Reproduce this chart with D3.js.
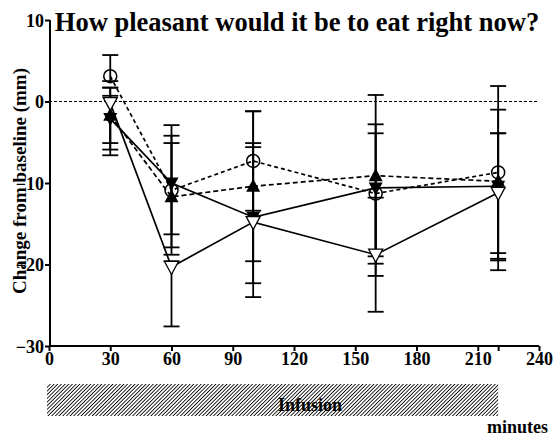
<!DOCTYPE html>
<html><head><meta charset="utf-8">
<script src="https://cdn.jsdelivr.net/npm/d3@7"></script>
<style>body{margin:0;background:#fff}svg{display:block}text{font-family:"Liberation Serif","Times New Roman",serif;font-weight:bold;fill:#000}</style>
</head><body><svg id="c" width="556" height="438"></svg>
<script>
const times = [30, 60, 100, 160, 220];
const xTicks = [0, 30, 60, 90, 120, 150, 180, 210, 240];
const yTicks = [10, 0, -10, -20, -30];
// series: open circle (dashed)
const circleVals = [3.1, -10.9, -7.3, -11.3, -8.7];
const circleHi   = [2.6, 8.0, 6.1, 8.5, 10.6];
const circleLo   = [0.6, 7.9, 6.1, 8.6, 10.6];
// filled triangle up (dashed)
const triUpVals = [-1.7, -11.7, -10.4, -9.1, -9.8];
const triUpHi   = [3.4, 6.6, 9.2, 9.9, 8.8];
const triUpLo   = [3.4, 6.2, 9.2, 9.9, 8.8];
// filled triangle down (solid)
const triDownVals = [-2.1, -10.0, -14.2, -10.6, -10.4];
const triDownHi   = [3.8, 5.8, 9.1, 6.7, 6.5];
const triDownLo   = [3.8, 6.3, 8.1, 10.8, 9.1];
// open triangle down (solid)
const openDownVals = [-0.2, -20.3, -14.8, -18.8, -11.2];
const openDownHi   = [0.9, 0.7, 9.2, 7.0, 7.3];
const openDownLo   = [6.4, 7.3, 9.2, 7.0, 9.5];
const infusion = [0, 220];

const svg = d3.select("#c");
const x = d3.scaleLinear().domain([0, 240]).range([49, 539]);
const y = d3.scaleLinear().domain([-30, 10]).range([346, 20]);

// hatch pattern
const defs = svg.append("defs");
const pat = defs.append("pattern").attr("id","hatch").attr("patternUnits","userSpaceOnUse")
  .attr("width",2.6).attr("height",2.6).attr("patternTransform","rotate(45)");
pat.append("rect").attr("width",2.6).attr("height",2.6).attr("fill","#fff");
pat.append("line").attr("x1",0).attr("y1",0).attr("x2",0).attr("y2",2.6).attr("stroke","#000").attr("stroke-width",1.7);

// title
svg.append("text").attr("x", 297).attr("y", 31).attr("text-anchor","middle")
  .style("font-size","26.5px").text("How pleasant would it be to eat right now?");

// zero line
svg.append("line").attr("x1", x(0)).attr("x2", x(240)).attr("y1", y(0)).attr("y2", y(0))
  .attr("stroke","#000").attr("stroke-width",1).attr("stroke-dasharray","3,2");

// axes
const yAxis = d3.axisLeft(y).tickValues(yTicks).tickSize(5).tickFormat(d3.format("d"));
const gy = svg.append("g").attr("transform",`translate(${x(0)+1},0)`).call(yAxis);
const xAxis = d3.axisBottom(x).tickValues(xTicks.concat([220])).tickSize(5)
  .tickFormat(d => xTicks.includes(d) ? d : "");
const gx = svg.append("g").attr("transform",`translate(0,${y(-30)})`).call(xAxis);
[gx, gy].forEach(g => {
  g.select(".domain").attr("stroke","#000").attr("stroke-width",2);
  g.selectAll(".tick line").attr("stroke","#000").attr("stroke-width",2);
  g.selectAll(".tick text").style("font-size","18px").style("font-family","'Liberation Serif',serif").style("font-weight","bold").attr("fill","#000");
});
gx.select(".domain").attr("d", `M${x(0)},0H${x(240)}`);
gy.select(".domain").attr("d", `M0,${y(10)}V${y(-30)}`);
gx.selectAll(".tick text").attr("dy","0.6em");
gy.selectAll(".tick text").attr("x",-6).attr("dy","0.35em");

// y title
svg.append("text").attr("transform","translate(26,181) rotate(-90)").attr("text-anchor","middle")
  .style("font-size","19px").text("Change from baseline (mm)");

const series = [
  {vals: circleVals, hi: circleHi, lo: circleLo, dash: "4,3", sym: "circle"},
  {vals: triUpVals, hi: triUpHi, lo: triUpLo, dash: "5,3", sym: "triUp"},
  {vals: triDownVals, hi: triDownHi, lo: triDownLo, dash: null, sym: "triDown"},
  {vals: openDownVals, hi: openDownHi, lo: openDownLo, dash: null, sym: "openDown"}
];
const line = d3.line().x((d,i) => x(times[i])).y(d => y(d));
series.forEach(s => {
  svg.append("path").attr("d", line(s.vals)).attr("fill","none").attr("stroke","#000")
    .attr("stroke-width",1.7).attr("stroke-dasharray", s.dash);
});
// error bars
series.forEach(s => {
  s.vals.forEach((v,i) => {
    const cx = x(times[i]);
    const g = svg.append("g").attr("stroke","#000").attr("stroke-width",1.8);
    g.append("line").attr("x1",cx).attr("x2",cx).attr("y1",y(v + s.hi[i])).attr("y2",y(v - s.lo[i]));
    g.append("line").attr("x1",cx-8).attr("x2",cx+8).attr("y1",y(v + s.hi[i])).attr("y2",y(v + s.hi[i]));
    g.append("line").attr("x1",cx-8).attr("x2",cx+8).attr("y1",y(v - s.lo[i])).attr("y2",y(v - s.lo[i]));
  });
});
// markers
series.forEach(s => {
  s.vals.forEach((v,i) => {
    const cx = x(times[i]), cy = y(v);
    if (s.sym === "circle") {
      svg.append("circle").attr("cx",cx).attr("cy",cy).attr("r",6.5).attr("fill","none").attr("stroke","#000").attr("stroke-width",1.5);
    } else if (s.sym === "triUp") {
      svg.append("path").attr("d",`M${cx},${cy-7.5}L${cx+7},${cy+5.5}L${cx-7},${cy+5.5}Z`).attr("fill","#000");
    } else if (s.sym === "triDown") {
      svg.append("path").attr("d",`M${cx},${cy+7.5}L${cx+7},${cy-5.5}L${cx-7},${cy-5.5}Z`).attr("fill","#000");
    } else {
      svg.append("path").attr("d",`M${cx},${cy+7.5}L${cx+7},${cy-5.5}L${cx-7},${cy-5.5}Z`).attr("fill","#fff").attr("stroke","#000").attr("stroke-width",1.3);
    }
  });
});

// infusion bar
svg.append("rect").attr("x", x(infusion[0])-2).attr("y",384).attr("width", x(infusion[1]) - x(infusion[0]) + 2)
  .attr("height",32).attr("fill","url(#hatch)");
svg.append("text").attr("x", 310).attr("y", 411).attr("text-anchor","middle").style("font-size","18px").text("Infusion");
svg.append("text").attr("x", 548).attr("y", 433).attr("text-anchor","end").style("font-size","18px").text("minutes");
</script></body></html>
